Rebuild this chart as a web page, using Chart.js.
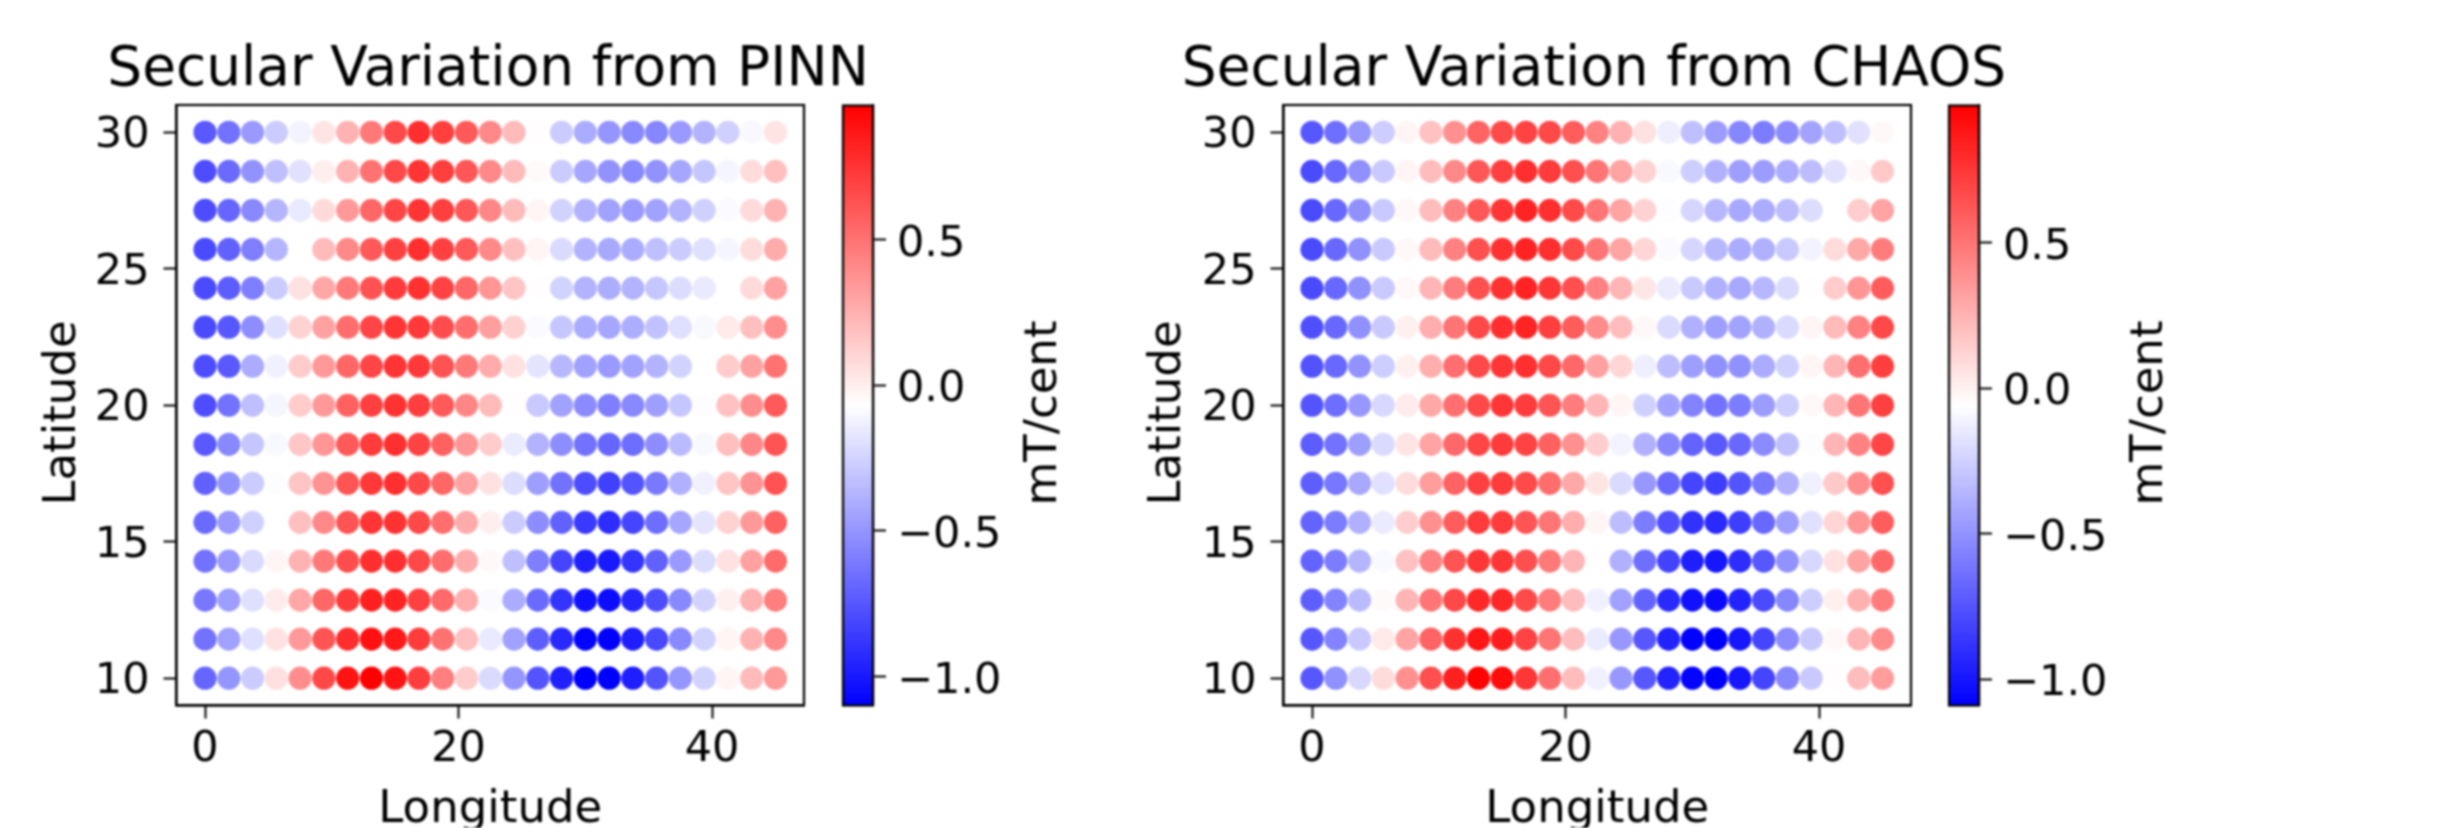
<!DOCTYPE html>
<html>
<head>
<meta charset="utf-8">
<title>Secular Variation</title>
<script src="https://cdn.jsdelivr.net/npm/chart.js@4"></script>
<style>
  html, body { margin: 0; padding: 0; background: #fff; }
  #page { position: relative; width: 2456px; height: 828px; overflow: hidden; }
  canvas { position: absolute; top: 0; filter: blur(0.9px); }
</style>
</head>
<body>
<div id="page">
  <canvas id="pinnChart" width="976" height="828" style="left:0"></canvas>
  <canvas id="pinnBar" width="240" height="828" style="left:830px"></canvas>
  <canvas id="chaosChart" width="976" height="828" style="left:1107px"></canvas>
  <canvas id="chaosBar" width="240" height="828" style="left:1936px"></canvas>
</div>
<script>
const longitudes = [0, 1.875, 3.75, 5.625, 7.5, 9.375, 11.25, 13.125, 15, 16.875, 18.75, 20.625, 22.5, 24.375, 26.25, 28.125, 30, 31.875, 33.75, 35.625, 37.5, 39.375, 41.25, 43.125, 45];
const latitudes = [30, 28.57, 27.14, 25.71, 24.29, 22.86, 21.43, 20, 18.57, 17.14, 15.71, 14.29, 12.86, 11.43, 10];

const lonTicks = [0, 20, 40];
const latTicks = [10, 15, 20, 25, 30];
const barTicks = [-1, -0.5, 0, 0.5];

const pinnRange = [-1.10, 0.96];
const chaosRange = [-1.09, 0.97];

// mT/cent, one row per latitude, top row first
const pinnValues = [
  [-.74,-.64,-.48,-.28,-.12,.04,.24,.47,.67,.77,.71,.60,.41,.21,-.06,-.28,-.41,-.50,-.55,-.56,-.48,-.38,-.26,-.10,.04],
  [-.79,-.67,-.51,-.33,-.19,0,.24,.50,.67,.75,.71,.61,.41,.21,-.05,-.28,-.43,-.51,-.55,-.51,-.43,-.30,-.11,.07,.19],
  [-.79,-.69,-.55,-.37,-.16,.08,.34,.55,.68,.75,.71,.61,.42,.21,-.03,-.25,-.38,-.45,-.48,-.45,-.38,-.26,-.09,.08,.24],
  [-.80,-.71,-.59,-.37,-.07,.21,.41,.60,.70,.77,.70,.60,.41,.19,-.03,-.22,-.38,-.42,-.41,-.33,-.28,-.20,-.11,.07,.27],
  [-.80,-.73,-.59,-.28,.05,.29,.47,.63,.72,.76,.69,.55,.36,.17,-.06,-.25,-.38,-.40,-.38,-.30,-.21,-.16,-.07,.08,.31],
  [-.80,-.75,-.53,-.20,.11,.31,.52,.68,.75,.73,.65,.52,.32,.12,-.09,-.30,-.41,-.43,-.40,-.32,-.20,-.10,.02,.19,.39],
  [-.79,-.74,-.41,-.13,.14,.34,.55,.68,.75,.73,.63,.47,.27,.05,-.18,-.36,-.45,-.48,-.45,-.38,-.25,-.07,.14,.31,.50],
  [-.79,-.64,-.33,-.11,.14,.34,.57,.70,.76,.71,.60,.42,.21,-.06,-.29,-.45,-.54,-.59,-.55,-.46,-.30,-.08,.18,.39,.60],
  [-.74,-.55,-.30,-.10,.16,.36,.60,.72,.77,.69,.57,.36,.14,-.15,-.38,-.53,-.64,-.69,-.66,-.53,-.35,-.10,.19,.42,.62],
  [-.71,-.51,-.28,-.08,.17,.37,.62,.73,.77,.67,.55,.31,.05,-.21,-.46,-.64,-.79,-.84,-.76,-.61,-.39,-.13,.17,.37,.63],
  [-.67,-.48,-.26,-.07,.19,.41,.62,.75,.76,.67,.52,.27,0,-.28,-.53,-.71,-.87,-.92,-.82,-.66,-.43,-.18,.11,.34,.57],
  [-.64,-.48,-.22,-.03,.24,.47,.65,.77,.77,.67,.52,.27,-.04,-.33,-.59,-.82,-.97,-1.00,-.89,-.71,-.48,-.21,.05,.31,.53],
  [-.62,-.46,-.20,.01,.29,.55,.72,.83,.82,.70,.53,.26,-.09,-.41,-.67,-.89,-1.03,-1.05,-.95,-.79,-.55,-.25,-.01,.24,.45],
  [-.64,-.45,-.20,.05,.34,.62,.78,.89,.86,.72,.50,.19,-.16,-.45,-.72,-.94,-1.08,-1.10,-.98,-.81,-.55,-.25,-.03,.24,.41],
  [-.69,-.50,-.28,.06,.39,.67,.88,.96,.88,.71,.45,.14,-.22,-.50,-.76,-.97,-1.10,-1.10,-.98,-.76,-.50,-.25,-.03,.21,.34]
];

const chaosValues = [
  [-.74,-.64,-.48,-.26,-.02,.19,.39,.57,.67,.70,.68,.60,.45,.26,.06,-.13,-.32,-.46,-.55,-.59,-.53,-.43,-.32,-.18,-.03],
  [-.79,-.67,-.51,-.28,-.02,.21,.42,.62,.71,.78,.73,.65,.50,.31,.12,-.09,-.26,-.38,-.45,-.46,-.40,-.33,-.18,-.03,.16],
  [-.79,-.67,-.51,-.28,-.03,.21,.45,.62,.75,.83,.78,.67,.50,.31,.12,-.07,-.23,-.35,-.41,-.40,-.33,-.20,-.06,.14,.31],
  [-.79,-.67,-.51,-.28,-.03,.22,.45,.65,.77,.83,.78,.67,.50,.31,.11,-.08,-.23,-.35,-.40,-.38,-.28,-.11,.08,.29,.47],
  [-.79,-.67,-.51,-.28,-.03,.24,.47,.65,.77,.83,.75,.65,.45,.24,.04,-.14,-.28,-.38,-.41,-.35,-.21,-.05,.15,.37,.60],
  [-.77,-.67,-.51,-.28,0,.27,.50,.68,.78,.83,.72,.60,.41,.21,-.03,-.21,-.38,-.45,-.43,-.38,-.21,-.02,.22,.45,.68],
  [-.76,-.67,-.50,-.26,0,.27,.52,.68,.75,.78,.68,.55,.32,.11,-.13,-.33,-.45,-.51,-.51,-.40,-.25,-.02,.24,.52,.72],
  [-.75,-.65,-.48,-.22,.02,.29,.52,.68,.75,.73,.63,.47,.24,-.02,-.25,-.44,-.56,-.63,-.59,-.46,-.26,-.03,.24,.50,.71],
  [-.72,-.63,-.45,-.21,.05,.31,.55,.69,.73,.70,.58,.39,.14,-.11,-.38,-.55,-.69,-.73,-.67,-.53,-.32,-.07,.24,.45,.69],
  [-.71,-.61,-.41,-.18,.08,.34,.57,.71,.73,.67,.53,.29,.05,-.21,-.48,-.67,-.81,-.84,-.75,-.61,-.38,-.12,.16,.40,.65],
  [-.69,-.59,-.38,-.14,.14,.39,.60,.73,.73,.63,.50,.27,-.02,-.33,-.59,-.77,-.89,-.92,-.84,-.67,-.45,-.18,.11,.37,.60],
  [-.69,-.59,-.36,-.09,.19,.45,.63,.75,.75,.65,.48,.24,-.05,-.38,-.64,-.82,-.97,-1.00,-.91,-.74,-.50,-.22,.06,.31,.55],
  [-.71,-.56,-.34,-.04,.24,.50,.68,.81,.81,.67,.47,.21,-.12,-.44,-.69,-.92,-1.02,-1.05,-.95,-.79,-.55,-.26,0,.26,.47],
  [-.74,-.56,-.28,.03,.31,.57,.77,.88,.85,.70,.50,.21,-.14,-.48,-.74,-.95,-1.08,-1.10,-1.00,-.81,-.53,-.28,-.03,.24,.41],
  [-.74,-.51,-.22,.08,.39,.65,.84,.96,.92,.75,.52,.21,-.12,-.48,-.74,-.95,-1.07,-1.10,-1.00,-.81,-.55,-.28,-.05,.21,.34]
];

const fontFamily = 'DejaVu Sans';
const textColor = '#000';

// same blue-white-red map as matplotlib's bwr
function bwr(value, range) {
  const t = Math.min(1, Math.max(0, (value - range[0]) / (range[1] - range[0])));
  if (t < 0.5) {
    const c = Math.round(510 * t);
    return `rgb(${c},${c},255)`;
  }
  const c = Math.round(510 * (1 - t));
  return `rgb(255,${c},${c})`;
}

// closed box round the plot area
const frame = {
  id: 'frame',
  afterDraw(chart) {
    const a = chart.chartArea;
    const ctx = chart.ctx;
    ctx.save();
    ctx.strokeStyle = textColor;
    ctx.lineWidth = 2.2;
    ctx.strokeRect(a.left, a.top, a.right - a.left, a.bottom - a.top);
    ctx.restore();
  }
};

// chart.js turns right-hand axis titles the other way, so these go in by hand
const sideLabel = {
  id: 'sideLabel',
  afterDraw(chart, args, opts) {
    const ctx = chart.ctx;
    ctx.save();
    ctx.translate(opts.x, opts.y);
    ctx.rotate(-Math.PI / 2);
    ctx.font = `45px "${fontFamily}"`;
    ctx.fillStyle = textColor;
    ctx.textAlign = 'center';
    ctx.textBaseline = 'alphabetic';
    ctx.fillText(opts.text, 0, 0);
    ctx.restore();
  }
};

// the built-in title squeezes text to the plot width, this one is wider than the plot
const topTitle = {
  id: 'topTitle',
  afterDraw(chart, args, opts) {
    const ctx = chart.ctx;
    ctx.save();
    ctx.font = `55px "${fontFamily}"`;
    ctx.fillStyle = textColor;
    ctx.textAlign = 'center';
    ctx.textBaseline = 'alphabetic';
    ctx.fillText(opts.text, opts.x, opts.y);
    ctx.restore();
  }
};

function makeScatter(id, title, rows, range, labelX, titleX) {
  const points = [];
  const colors = [];
  rows.forEach((row, i) => {
    row.forEach((v, j) => {
      points.push({ x: longitudes[j], y: latitudes[i] });
      colors.push(bwr(v, range));
    });
  });

  return new Chart(document.getElementById(id), {
    type: 'scatter',
    data: {
      datasets: [{
        data: points,
        backgroundColor: colors,
        borderWidth: 0,
        pointRadius: 11.6
      }]
    },
    options: {
      responsive: false,
      animation: false,
      devicePixelRatio: 1,
      layout: { padding: { top: 105, right: 172, bottom: 0, left: 0 } },
      plugins: {
        legend: { display: false },
        tooltip: { enabled: false },
        topTitle: { text: title, x: titleX, y: 85 },
        sideLabel: { text: 'Latitude', x: labelX, y: 413 }
      },
      scales: {
        x: {
          type: 'linear',
          min: -2.25,
          max: 47.25,
          afterBuildTicks(scale) { scale.ticks = lonTicks.map(v => ({ value: v })); },
          afterFit(scale) { scale.height = 122.5; },
          grid: { drawOnChartArea: false, tickLength: 13, tickColor: textColor, tickWidth: 2 },
          border: { color: textColor, width: 2.2 },
          ticks: { color: textColor, font: { family: fontFamily, size: 43 }, padding: 6, maxRotation: 0, autoSkip: false },
          title: {
            display: true,
            text: 'Longitude',
            color: textColor,
            font: { family: fontFamily, size: 45, lineHeight: 1 },
            padding: { top: 0, bottom: -5 }
          }
        },
        y: {
          min: 9,
          max: 31,
          afterBuildTicks(scale) { scale.ticks = latTicks.map(v => ({ value: v })); },
          afterFit(scale) { scale.width = 176.5; },
          grid: { drawOnChartArea: false, tickLength: 13, tickColor: textColor, tickWidth: 2 },
          border: { color: textColor, width: 2.2 },
          ticks: { color: textColor, font: { family: fontFamily, size: 43 }, padding: 14, labelOffset: 4, autoSkip: false }
        }
      }
    },
    plugins: [frame, sideLabel, topTitle]
  });
}

function makeColorbar(id, range, labelX) {
  return new Chart(document.getElementById(id), {
    type: 'bar',
    data: {
      labels: ['mT/cent'],
      datasets: [{
        data: [[range[0], range[1]]],
        barPercentage: 1,
        categoryPercentage: 1,
        borderWidth: 0,
        backgroundColor(context) {
          const a = context.chart.chartArea;
          if (!a) return '#fff';
          const g = context.chart.ctx.createLinearGradient(0, a.bottom, 0, a.top);
          g.addColorStop(0, '#0000ff');
          g.addColorStop(0.5, '#ffffff');
          g.addColorStop(1, '#ff0000');
          return g;
        }
      }]
    },
    options: {
      responsive: false,
      animation: false,
      devicePixelRatio: 1,
      layout: { padding: { top: 105.5, right: 0, bottom: 0, left: 13 } },
      plugins: {
        legend: { display: false },
        tooltip: { enabled: false },
        sideLabel: { text: 'mT/cent', x: labelX, y: 413 }
      },
      scales: {
        x: { display: false, afterFit(scale) { scale.height = 122.5; } },
        y: {
          position: 'right',
          min: range[0],
          max: range[1],
          afterBuildTicks(scale) { scale.ticks = barTicks.map(v => ({ value: v })); },
          afterFit(scale) { scale.width = 197; },
          grid: { drawOnChartArea: false, tickLength: 13, tickColor: textColor, tickWidth: 2 },
          border: { color: textColor, width: 2.2 },
          ticks: {
            color: textColor,
            font: { family: fontFamily, size: 43 },
            padding: 11,
            labelOffset: 5,
            autoSkip: false,
            callback: v => (v < 0 ? '\u2212' : '') + Math.abs(v).toFixed(1)
          }
        }
      }
    },
    plugins: [frame, sideLabel]
  });
}

makeScatter('pinnChart', 'Secular Variation from PINN', pinnValues, pinnRange, 75, 488);
makeColorbar('pinnBar', pinnRange, 226);
makeScatter('chaosChart', 'Secular Variation from CHAOS', chaosValues, chaosRange, 73, 487);
makeColorbar('chaosBar', chaosRange, 226);
</script>
</body>
</html>
